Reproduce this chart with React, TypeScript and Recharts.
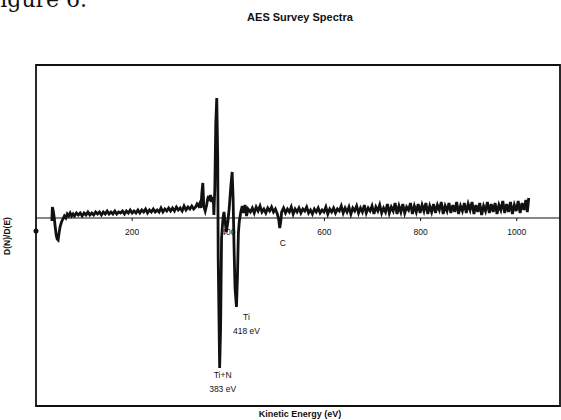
import React from "react";
import { LineChart, Line, XAxis, YAxis, ReferenceLine, ReferenceArea, ReferenceDot } from "recharts";

// AES survey spectrum, [kinetic energy eV, D(N)/D(E) arb. units]
const lowRegion: [number, number][] = [
  [33, -3], [34, 11], [36, 7], [38, 0], [40, -9], [42, -17], [44, -21], [46, -22], [48, -15], [50, -9],
  [53, -4], [56, -1], [59, 2], [62, 0], [65, 4], [68, 2], [71, 5], [74, 2], [77, 4], [80, 2],
  [84, 5], [88, 3], [92, 5], [96, 2], [100, 5], [104, 3], [108, 6], [112, 3], [116, 5], [120, 3],
  [124, 6], [128, 4], [132, 6], [136, 3], [140, 6], [144, 4], [148, 7], [152, 4], [156, 6], [160, 4],
  [164, 7], [168, 4], [172, 6], [176, 5], [180, 7], [184, 4], [188, 7], [192, 5], [196, 8], [200, 5],
  [204, 7], [208, 5], [212, 8], [216, 5], [220, 8], [224, 6], [228, 9], [232, 5], [236, 8], [240, 6],
  [244, 9], [248, 6], [252, 8], [256, 6], [260, 10], [264, 6], [268, 9], [272, 7], [276, 10], [280, 7],
  [284, 10], [288, 7], [292, 11], [296, 8], [300, 10], [304, 7], [308, 12], [312, 8], [316, 11], [320, 9],
  [324, 12], [328, 9],
];

const tiRegion: [number, number][] = [
  [332, 11], [335, 14], [338, 12], [341, 15], [343, 10], [345, 25], [347, 35], [349, 12], [352, 7], [355, 13],
  [357, 19], [359, 22], [361, 17], [363, 23], [365, 16], [367, 21], [369, 17], [370, 3], [372, 30], [374, 95],
  [376, 120], [378, 60], [379, -40], [382, -150], [384, -110], [386, -20], [389, 0], [391, 6], [393, -2], [396, -14],
  [399, -4], [402, 10], [405, 30], [408, 46], [410, 20], [412, -30], [414, -70], [417, -89], [419, -60], [421, -15],
  [423, -3], [426, 6], [429, 12], [432, 5], [435, 13], [438, 2], [441, 9],
];

const highRegion: [number, number][] = [
  [446, 6], [450, 10], [454, 5], [458, 11], [462, 7], [466, 12], [470, 6], [474, 9], [478, 5], [482, 10],
  [486, 7], [490, 11], [494, 6], [498, 9], [502, 4], [505, -2], [507, -10], [509, -4], [511, 6], [515, 10],
  [519, 5], [523, 9], [527, 6], [531, 11], [535, 4], [539, 9], [543, 6], [547, 10], [551, 5], [555, 9],
  [559, 7], [563, 11], [567, 5], [571, 8], [575, 4], [579, 9], [583, 6], [587, 10], [591, 5], [595, 8],
  [599, 6], [603, 11], [607, 4], [611, 9], [615, 6], [619, 10], [623, 5], [627, 9], [631, 7], [635, 12],
  [639, 5], [643, 10], [647, 6], [651, 11], [655, 4], [659, 10], [663, 7], [667, 12], [671, 5], [675, 10],
  [679, 6], [683, 13], [687, 5], [691, 10], [695, 7], [699, 12], [703, 4], [707, 11], [711, 7], [715, 13],
  [719, 5], [723, 10], [727, 6], [731, 14], [735, 5], [739, 11], [743, 7], [747, 15], [751, 4], [755, 12],
  [759, 6], [763, 14], [767, 5], [771, 11], [775, 8], [779, 15], [783, 4], [787, 12], [791, 6], [795, 14],
  [799, 5], [803, 13], [807, 7], [811, 15], [815, 4], [819, 12], [823, 6], [827, 14], [831, 5], [835, 13],
  [839, 8], [843, 16], [847, 4], [851, 12], [855, 7], [859, 15], [863, 5], [867, 13], [871, 6], [875, 16],
  [879, 4], [883, 12], [887, 7], [891, 15], [895, 5], [899, 14], [903, 8], [907, 16], [911, 4], [915, 13],
  [919, 6], [923, 15], [927, 3], [931, 12], [935, 7], [939, 16], [943, 5], [947, 14], [951, 6], [955, 15],
  [959, 4], [963, 13], [967, 8], [971, 17], [975, 5], [979, 14], [983, 6], [987, 16], [991, 4], [995, 13],
  [999, 7], [1003, 17], [1007, 5], [1011, 15], [1015, 8], [1019, 18], [1022, 6], [1025, 20],
];

const xTicks = [200, 400, 600, 800, 1000];
const xDomain: [number, number] = [0, 1090];
const yDomain: [number, number] = [-188, 153];

const peakNotes = [
  { eV: 382, value: -150, lines: ["Ti+N", "383 eV"] },
  { eV: 417, value: -89, lines: ["Ti", "418 eV"] },
  { eV: 507, value: -10, lines: ["C"] },
];
// label offsets (px) from each note's anchor point
const noteOffsets = [
  { dx: 3, dy: [10, 24] },
  { dx: 10, dy: [13, 27] },
  { dx: 3, dy: [18] },
];

const spectrum = [...lowRegion, ...tiRegion, ...highRegion].map(([eV, v]) => ({ eV, v }));

const SANS = "'Liberation Sans', Arial, Helvetica, sans-serif";
const INK = "#111";

export default function App() {
  return (
    <div style={{ position: "absolute", left: 0, top: 0, width: 561, height: 420, background: "#fff", overflow: "hidden" }}>
      <LineChart width={561} height={420} data={spectrum} margin={{ top: 65, right: 1, bottom: 14, left: 36 }}>
        <XAxis type="number" dataKey="eV" domain={xDomain} hide />
        <YAxis type="number" domain={yDomain} hide />
        <ReferenceArea x1={xDomain[0]} x2={xDomain[1]} y1={yDomain[0]} y2={yDomain[1]} fill="none" stroke={INK} strokeWidth={1.8} />
        <ReferenceLine y={0} stroke={INK} strokeWidth={1.2} />
        <ReferenceDot x={0} y={-13} r={2.5} fill={INK} stroke="none" />
        {xTicks.map((t) => (
          <ReferenceDot
            key={t}
            x={t}
            y={0}
            shape={(p: any) => (
              <g>
                <line x1={p.cx} y1={p.cy} x2={p.cx} y2={p.cy + 3} stroke={INK} strokeWidth={1} />
                <text x={p.cx} y={p.cy + 17} textAnchor="middle" fontSize={8.5} fontFamily={SANS} fill={INK}>
                  {t}
                </text>
              </g>
            )}
          />
        ))}
        <Line type="linear" dataKey="v" stroke={INK} strokeWidth={2.8} dot={false} isAnimationActive={false} />
        {peakNotes.map((n, i) => (
          <ReferenceDot
            key={n.lines[0]}
            x={n.eV}
            y={n.value}
            shape={(p: any) => (
              <g>
                {n.lines.map((s, j) => (
                  <text key={s} x={p.cx + noteOffsets[i].dx} y={p.cy + noteOffsets[i].dy[j]} textAnchor="middle" fontSize={8.5} fontFamily={SANS} fill={INK}>
                    {s}
                  </text>
                ))}
              </g>
            )}
          />
        ))}
      </LineChart>
      <svg width={561} height={420} style={{ position: "absolute", left: 0, top: 0, pointerEvents: "none" }}>
        <text x={-15} y={7} fontFamily="'DejaVu Serif', serif" fontSize={22} fill={INK}>Figure 6.</text>
        <text x={300} y={21} textAnchor="middle" fontFamily={SANS} fontSize={11} fontWeight={700} fill={INK}>AES Survey Spectra</text>
        <text x={300} y={417} textAnchor="middle" fontFamily={SANS} fontSize={9} fontWeight={700} fill={INK}>Kinetic Energy (eV)</text>
        <text x={0} y={0} transform="translate(10, 236) rotate(-90)" textAnchor="middle" fontFamily={SANS} fontSize={8.5} fontWeight={700} fill={INK}>D(N)/D(E)</text>
      </svg>
    </div>
  );
}
